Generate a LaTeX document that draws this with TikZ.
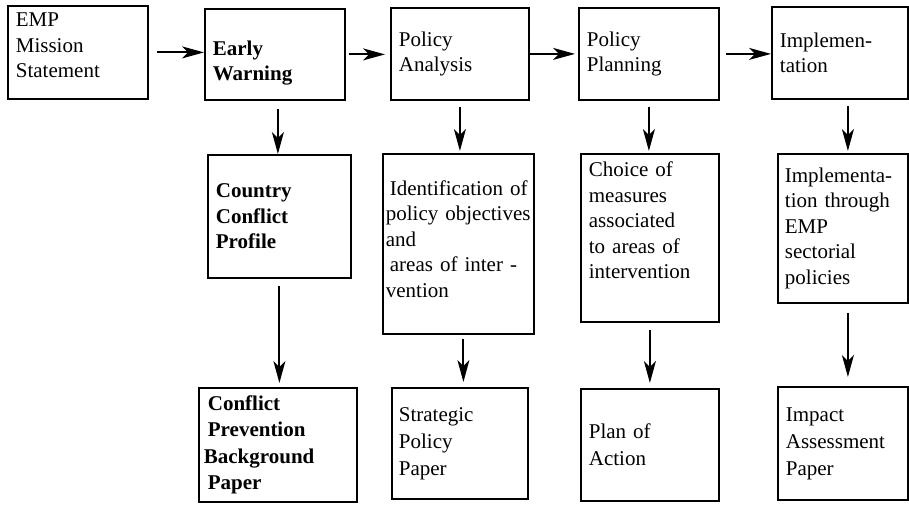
\documentclass[tikz,border=0pt]{standalone}
\usepackage{fontspec}
\setmainfont{Liberation Serif}
\usetikzlibrary{arrows.meta}
\begin{document}
\begin{tikzpicture}[x=1pt,y=-1pt,
  box/.style={draw, line width=1.8pt, anchor=north west, inner xsep=8pt, inner ysep=0pt,
    align=left, font=\fontsize{21}{25.5}\selectfont},
  sz/.style 2 args={text width=#1, minimum height=#2},
  lowfont/.style={font=\fontsize{21}{27}\selectfont},
  arr/.style={line width=2pt, -{Stealth[length=22pt,width=12pt,inset=6pt]}}]
\useasboundingbox (0,0) rectangle (909,504);

% row 1
\node[box, sz={124pt}{93pt}, text depth=65pt] (emp) at (7,5) {EMP\\Mission\\Statement};
\node[box, sz={124pt}{91pt}, text height=32pt, font=\fontsize{21}{25.5}\selectfont\bfseries] (ew) at (204,8) {Early\\Warning};
\node[box, sz={122pt}{92pt}] (pa) at (390,7) {Policy\\Analysis};
\node[box, sz={124pt}{92pt}] (pp) at (578,7) {Policy\\Planning};
\node[box, sz={120pt}{92pt}] (impl) at (771,6) {Implemen-\\tation};

% row 2
\node[box, sz={127pt}{123pt}, font=\fontsize{21}{25.5}\selectfont\bfseries] (ccp) at (207,154) {Country\\Conflict\\Profile};
\node[box, inner xsep=3pt, sz={145pt}{180pt}, text depth=112pt] (ident) at (382,153)
  {\hspace{4pt}Identification of\\policy~objectives\\and\\\hspace{4pt}areas of inter -\\vention};
\node[box, sz={122pt}{168pt}, text depth=137pt] (choice) at (580,153) {Choice of\\measures\\associated\\to areas of\\intervention};
\node[box, inner xsep=7pt, sz={116pt}{149pt}] (implt) at (777,153) {Implementa-\\tion through\\EMP\\sectorial\\policies};

% row 3
\node[box, inner xsep=5pt, sz={148pt}{114pt}, font=\fontsize{21}{26.5}\selectfont\bfseries] (cpbp) at (198,387)
  {\hspace{4pt}Conflict\\\hspace{4pt}Prevention\\Background\\\hspace{4pt}Paper};
\node[box, inner xsep=7pt, sz={122pt}{111pt}, lowfont] (spp) at (391,387) {Strategic\\Policy\\Paper};
\node[box, sz={122pt}{112pt}, lowfont] (poa) at (580,388) {Plan of\\Action};
\node[box, sz={114pt}{113pt}, lowfont] (iap) at (777,386) {Impact\\Assessment\\Paper};

% horizontal arrows
\draw[arr, shorten <=8pt] (emp.east) -- (emp.east -| ew.west);
\draw[arr, shorten <=3pt, shorten >=5pt] (ew.east) -- (ew.east -| pa.west);
\draw[arr, shorten >=3pt] (pa.east) -- (pa.east -| pp.west);
\draw[arr, shorten <=6pt] (pp.east) -- (pp.east -| impl.west);

% vertical arrows
\draw[arr, shorten <=8pt] ([xshift=3pt]ew.south) -- ([xshift=3pt]ew.south |- ccp.north);
\draw[arr, shorten <=7pt, shorten >=4pt] (ccp.south) -- (ccp.south |- cpbp.north);
\draw[arr, shorten <=6pt, shorten >=2pt] (pa.south) -- (pa.south |- ident.north);
\draw[arr, shorten <=4pt, shorten >=5pt] ([xshift=5pt]ident.south) -- ([xshift=5pt]ident.south |- spp.north);
\draw[arr, shorten <=6pt, shorten >=2pt] (pp.south) -- (pp.south |- choice.north);
\draw[arr, shorten <=7pt, shorten >=5pt] (choice.south) -- (choice.south |- poa.north);
\draw[arr, shorten <=6pt, shorten >=2pt] ([xshift=8pt]impl.south) -- ([xshift=8pt]impl.south |- implt.north);
\draw[arr, shorten <=9pt, shorten >=9pt] ([xshift=5pt]implt.south) -- ([xshift=5pt]implt.south |- iap.north);
\end{tikzpicture}
\end{document}
